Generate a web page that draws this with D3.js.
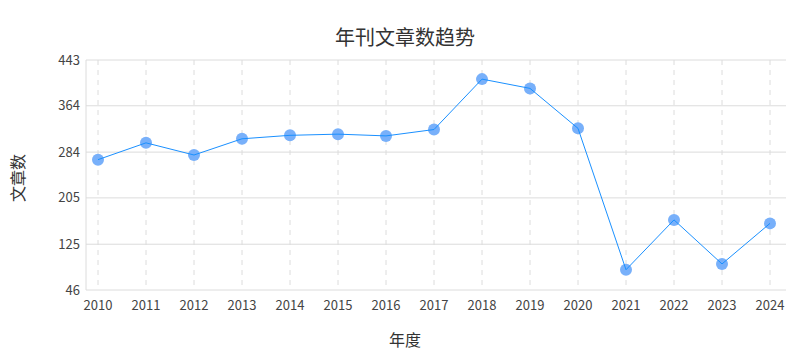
<!DOCTYPE html>
<html>
<head>
<meta charset="utf-8">
<script src="https://cdn.jsdelivr.net/npm/d3@7.9.0/dist/d3.min.js"></script>
<style>
  body { margin: 0; background: #fff; }
  svg { font-family: "Noto Sans CJK SC", "Noto Sans", sans-serif; }
</style>
</head>
<body>
<svg id="chart" width="810" height="360"></svg>
<script>
const years = ['2010', '2011', '2012', '2013', '2014', '2015', '2016', '2017', '2018', '2019', '2020', '2021', '2022', '2023', '2024'];
const counts = [271, 300, 279, 307, 313, 315, 312, 323, 410, 394, 325, 81, 167, 91, 161];
const yTicks = [46, 125, 205, 284, 364, 443];

const svg = d3.select('#chart');
const plotLeft = 86, plotRight = 786, plotTop = 60, plotBottom = 290;

const x = d3.scalePoint().domain(years).range([98, 770]);
const y = d3.scaleLinear().domain([46, 443]).range([plotBottom, plotTop]);

// horizontal grid
svg.append('g')
  .selectAll('line')
  .data(yTicks)
  .join('line')
  .attr('x1', plotLeft).attr('x2', plotRight)
  .attr('y1', d => y(d)).attr('y2', d => y(d))
  .attr('stroke', '#dcdcdc').attr('stroke-width', 1);

// vertical dashed grid
svg.append('g')
  .selectAll('line')
  .data(years)
  .join('line')
  .attr('x1', d => x(d)).attr('x2', d => x(d))
  .attr('y1', plotTop).attr('y2', plotBottom)
  .attr('stroke', '#dcdcdc').attr('stroke-width', 1)
  .attr('stroke-dasharray', '5,5');

// left axis line
svg.append('line')
  .attr('x1', plotLeft).attr('x2', plotLeft).attr('y1', plotTop).attr('y2', plotBottom)
  .attr('stroke', '#dcdcdc');

// y tick labels
svg.append('g')
  .selectAll('text')
  .data(yTicks)
  .join('text')
  .attr('x', plotLeft - 6)
  .attr('y', d => y(d))
  .attr('dy', '0.35em')
  .attr('text-anchor', 'end')
  .attr('font-size', 13)
  .attr('fill', '#444')
  .text(d => d);

// x tick labels
svg.append('g')
  .selectAll('text')
  .data(years)
  .join('text')
  .attr('x', d => x(d))
  .attr('y', plotBottom + 20)
  .attr('text-anchor', 'middle')
  .attr('font-size', 13)
  .attr('fill', '#444')
  .text(d => d);

// points
svg.append('g')
  .selectAll('circle')
  .data(years)
  .join('circle')
  .attr('cx', d => x(d))
  .attr('cy', (d, i) => y(counts[i]))
  .attr('r', 6)
  .attr('fill', '#78b0fa');

// line
const line = d3.line()
  .x((d, i) => x(years[i]))
  .y(d => y(d));

svg.append('path')
  .datum(counts)
  .attr('d', line)
  .attr('fill', 'none')
  .attr('stroke', '#1a90ff')
  .attr('stroke-width', 1);

// title
svg.append('text')
  .attr('x', 405).attr('y', 45)
  .attr('text-anchor', 'middle')
  .attr('font-size', 20)
  .attr('fill', '#333')
  .text('年刊文章数趋势');

// axis titles
svg.append('text')
  .attr('x', 405).attr('y', 346)
  .attr('text-anchor', 'middle')
  .attr('font-size', 16)
  .attr('fill', '#333')
  .text('年度');

svg.append('text')
  .attr('transform', 'translate(24,178) rotate(-90)')
  .attr('text-anchor', 'middle')
  .attr('font-size', 16)
  .attr('fill', '#333')
  .text('文章数');
</script>
</body>
</html>
